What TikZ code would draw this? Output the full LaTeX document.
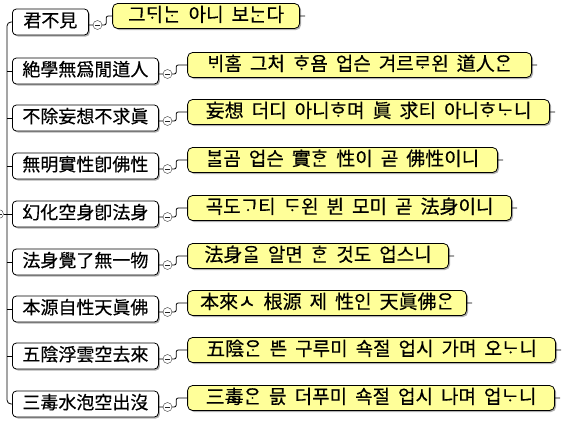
\documentclass[tikz,border=0pt]{standalone}
\usepackage{fontspec}
\newfontfamily\krfont[Script=Hangul, FakeBold=0.4]{Noto Sans CJK KR}
\usepackage{xcolor}
\usetikzlibrary{positioning,shadows}

\definecolor{notefill}{RGB}{255,255,153}
\newcommand\glossfont{\krfont\fontsize{19}{22}\selectfont\spaceskip 8pt plus 0pt\relax}

\begin{document}
\begin{tikzpicture}[x=1pt, y=-1pt,
                font=\krfont\fontsize{18}{22}\selectfont,
                verse/.style={draw, line width=0.8pt, rounded corners=4pt, fill=white, anchor=west, inner xsep=10pt, inner ysep=0pt, minimum height=26pt, text height=14pt, text depth=4pt, drop shadow={shadow xshift=1.5pt, shadow yshift=-1.5pt, fill=gray!60, opacity=1}},
                gloss/.style={draw, line width=0.8pt, rounded corners=5pt, fill=notefill, inner xsep=8pt, inner ysep=0pt, minimum height=25pt, text height=15pt, text depth=4pt, font=\glossfont, drop shadow={shadow xshift=1.5pt, shadow yshift=-1.5pt, fill=gray!60, opacity=1}},
                toggle/.style={circle, draw=gray!40!black, fill=white, minimum size=9pt, inner sep=0pt, path picture={\draw[gray!30!black] ([xshift=-2.5pt]path picture bounding box.center) -- ([xshift=2.5pt]path picture bounding box.center);}},
                link/.style={draw=black, line width=0.8pt}
            ]
            \useasboundingbox (0,0) rectangle (566,424);
            % verses (left column)
            \node[verse, minimum width=76pt] (verse1) at (12,22) {君不見};
            \node[verse] (verse2) at (12,71) {絶學無爲閒道人};
            \node[verse] (verse3) at (12,118) {不除妄想不求眞};
            \node[verse] (verse4) at (12,166) {無明實性卽佛性};
            \node[verse] (verse5) at (12,214) {幻化空身卽法身};
            \node[verse] (verse6) at (12,262) {法身覺了無一物};
            \node[verse] (verse7) at (12,309) {本源自性天眞佛};
            \node[verse] (verse8) at (12,356) {五陰浮雲空去來};
            \node[verse] (verse9) at (12,404) {三毒水泡空出沒};
            % toggles
            \node[toggle, right=4pt of verse1, yshift=-3pt] (tog1) {};
            \node[toggle, right=4pt of verse2, yshift=-3pt] (tog2) {};
            \node[toggle, right=4pt of verse3, yshift=-3pt] (tog3) {};
            \node[toggle, right=4pt of verse4, yshift=-3pt] (tog4) {};
            \node[toggle, right=4pt of verse5, yshift=-3pt] (tog5) {};
            \node[toggle, right=4pt of verse6, yshift=-3pt] (tog6) {};
            \node[toggle, right=4pt of verse7, yshift=-3pt] (tog7) {};
            \node[toggle, right=4pt of verse8, yshift=-3pt] (tog8) {};
            \node[toggle, right=4pt of verse9, yshift=-3pt] (tog9) {};
            % glosses (right column)
            \node[gloss, minimum width=187pt, right=10pt of tog1, yshift=9pt] (gloss1) {그^^^^1103^^^^11a1^^^^1102^^^^119e^^^^11ab 아니 보^^^^1102^^^^119e^^^^11ab다};
            \node[gloss, minimum width=344pt, right=15pt of tog2, yshift=9pt] (gloss2) {^^^^1107^^^^11a1홈 그처 ^^^^1112^^^^119e욤 업슨 겨르^^^^1105^^^^119e왼 道人^^^^110b^^^^119e^^^^11ab};
            \node[gloss, minimum width=362pt, right=15pt of tog3, yshift=9pt] (gloss3) {妄想 더디 아니^^^^1112^^^^119e며 眞 求티 아니^^^^1112^^^^119e^^^^1102^^^^119e니};
            \node[gloss, minimum width=310pt, right=15pt of tog4, yshift=9pt] (gloss4) {^^^^1107^^^^119e^^^^11af곰 업슨 實^^^^1112^^^^119e^^^^11ab 性이 곧 佛性이니};
            \node[gloss, minimum width=324pt, right=15pt of tog5, yshift=9pt] (gloss5) {곡도^^^^1100^^^^119e티 ^^^^1103^^^^119e왼 뷘 모미 곧 法身이니};
            \node[gloss, minimum width=261pt, right=15pt of tog6, yshift=9pt] (gloss6) {法身^^^^110b^^^^119e^^^^11af 알면 ^^^^1112^^^^119e^^^^11ab 것도 업스니};
            \node[gloss, minimum width=279pt, right=15pt of tog7, yshift=9pt] (gloss7) {本來ㅅ 根源 제 性인 天眞佛^^^^110b^^^^119e^^^^11ab};
            \node[gloss, minimum width=368pt, right=15pt of tog8, yshift=9pt] (gloss8) {五陰^^^^110b^^^^119e^^^^11ab ^^^^1120^^^^1173^^^^11ab 구루미 쇽절 업시 가며 오^^^^1102^^^^119e니};
            \node[gloss, minimum width=367pt, right=15pt of tog9, yshift=9pt] (gloss9) {三毒^^^^110b^^^^119e^^^^11ab 믌 더푸미 쇽절 업시 나며 업^^^^1102^^^^119e니};
            % spine
            \coordinate (spine) at (7,214);
            \node[toggle] (root) at (-1,214) {};
            \draw[link] (root) -- (spine);
            \draw[link, rounded corners=4pt] (verse1.west) -| (spine) |- (verse9.west);
            \draw[link] (spine |- verse2.west) -- (verse2.west) (spine |- verse3.west) -- (verse3.west)
                (spine |- verse4.west) -- (verse4.west) (spine |- verse5.west) -- (verse5.west)
                (spine |- verse6.west) -- (verse6.west) (spine |- verse7.west) -- (verse7.west)
                (spine |- verse8.west) -- (verse8.west);
            % links
            \draw[link, rounded corners=2pt] (verse1.east |- tog1.west) -- (tog1.west) (tog1.east) -- ++(4,0) |- (gloss1.west) (gloss1.east) -- ([xshift=5pt]gloss1.east);
            \draw[link, rounded corners=2pt] (verse2.east |- tog2.west) -- (tog2.west) (tog2.east) -- ++(4,0) |- (gloss2.west) (gloss2.east) -- ([xshift=5pt]gloss2.east);
            \draw[link, rounded corners=2pt] (verse3.east |- tog3.west) -- (tog3.west) (tog3.east) -- ++(4,0) |- (gloss3.west) (gloss3.east) -- ([xshift=5pt]gloss3.east);
            \draw[link, rounded corners=2pt] (verse4.east |- tog4.west) -- (tog4.west) (tog4.east) -- ++(4,0) |- (gloss4.west) (gloss4.east) -- ([xshift=5pt]gloss4.east);
            \draw[link, rounded corners=2pt] (verse5.east |- tog5.west) -- (tog5.west) (tog5.east) -- ++(4,0) |- (gloss5.west) (gloss5.east) -- ([xshift=5pt]gloss5.east);
            \draw[link, rounded corners=2pt] (verse6.east |- tog6.west) -- (tog6.west) (tog6.east) -- ++(4,0) |- (gloss6.west) (gloss6.east) -- ([xshift=5pt]gloss6.east);
            \draw[link, rounded corners=2pt] (verse7.east |- tog7.west) -- (tog7.west) (tog7.east) -- ++(4,0) |- (gloss7.west) (gloss7.east) -- ([xshift=5pt]gloss7.east);
            \draw[link, rounded corners=2pt] (verse8.east |- tog8.west) -- (tog8.west) (tog8.east) -- ++(4,0) |- (gloss8.west) (gloss8.east) -- ([xshift=5pt]gloss8.east);
            \draw[link, rounded corners=2pt] (verse9.east |- tog9.west) -- (tog9.west) (tog9.east) -- ++(4,0) |- (gloss9.west) (gloss9.east) -- ([xshift=5pt]gloss9.east);
        \end{tikzpicture}
\end{document}
